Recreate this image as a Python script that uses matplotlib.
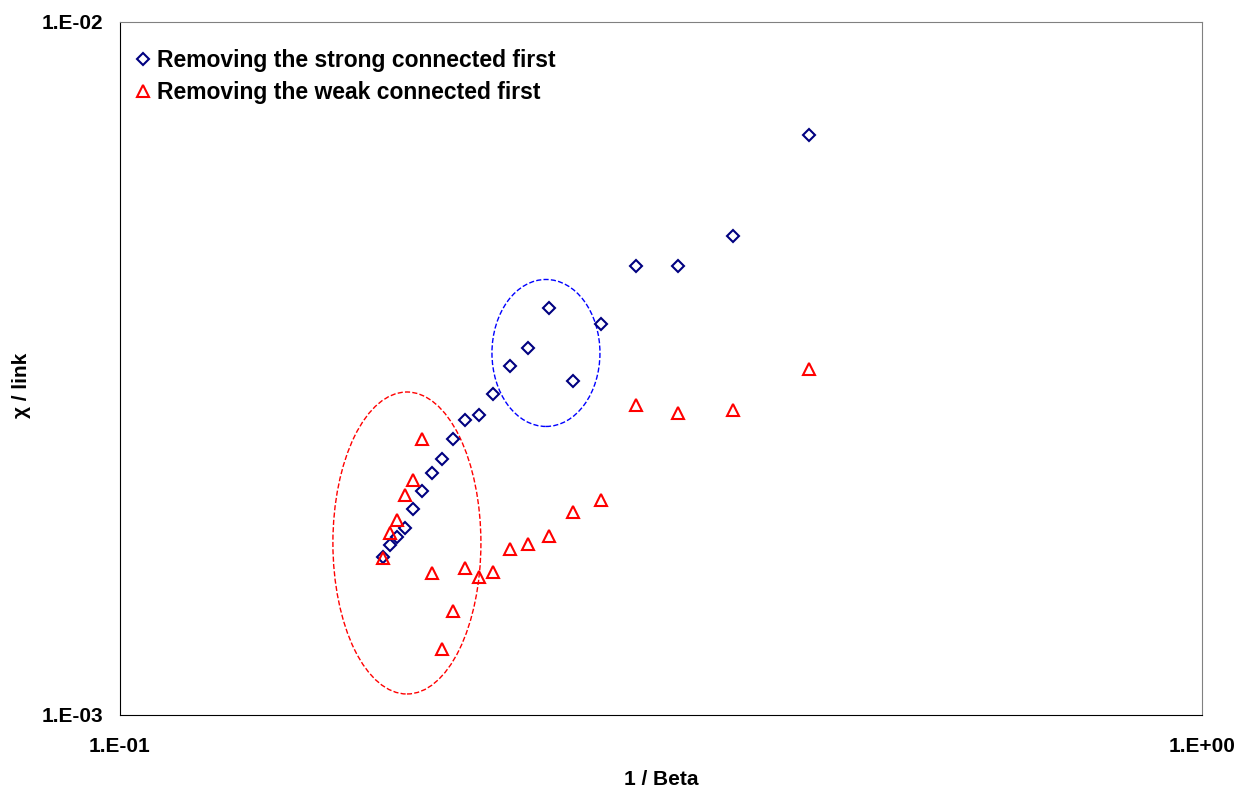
import matplotlib
matplotlib.use('Agg')
import matplotlib.pyplot as plt
from matplotlib.patches import Ellipse
from matplotlib.ticker import NullLocator, FixedLocator, FixedFormatter

plt.rcParams['font.family'] = ['Liberation Sans', 'DejaVu Sans']
plt.rcParams['font.weight'] = 'bold'

# 1/Beta values (shared by both series)
inv_beta = [0.1750, 0.1776, 0.1803, 0.1834, 0.1866, 0.1901, 0.1943, 0.1984,
            0.2031, 0.2084, 0.2147, 0.2211, 0.2293, 0.2383, 0.2492, 0.2622,
            0.2783, 0.2999, 0.3280, 0.3686, 0.4333]

chi_strong = [0.001690, 0.001759, 0.001806, 0.001861, 0.001983, 0.002105,
              0.002235, 0.002342, 0.002502, 0.002669, 0.002710, 0.002906,
              0.003190, 0.003387, 0.003866, 0.003034, 0.003667, 0.004445,
              0.004445, 0.004911, 0.006869]

chi_weak = [0.001685, 0.001830, 0.001911, 0.002077, 0.002183, 0.002502,
            0.001603, 0.001245, 0.001413, 0.001630, 0.001581, 0.001608,
            0.001737, 0.001765, 0.001813, 0.001963, 0.002042, 0.002801,
            0.002728, 0.002755, 0.003157]

x_ticks = [0.1, 1.0]
x_ticklabels = ['1.E-01', '1.E+00']
y_ticks = [0.001, 0.01]
y_ticklabels = ['1.E-03', '1.E-02']

fig = plt.figure(figsize=(12.47, 7.91), dpi=100)
ax = fig.add_axes([0.0962, 0.0961, 0.8677, 0.8761])

ax.plot(inv_beta, chi_strong, linestyle='none', marker='D', ms=6.5,
        mfc='none', mec='#000080', mew=1.5,
        label='Removing the strong connected first')
ax.plot(inv_beta, chi_weak, linestyle='none', marker='^', ms=8,
        mfc='none', mec='#FF0000', mew=1.5,
        label='Removing the weak connected first')

ax.set_xscale('log')
ax.set_yscale('log')
ax.set_xlim(0.1, 1.0)
ax.set_ylim(0.001, 0.01)

ax.xaxis.set_major_locator(FixedLocator(x_ticks))
ax.xaxis.set_major_formatter(FixedFormatter(x_ticklabels))
ax.yaxis.set_major_locator(FixedLocator(y_ticks))
ax.yaxis.set_major_formatter(FixedFormatter(y_ticklabels))
ax.xaxis.set_minor_locator(NullLocator())
ax.yaxis.set_minor_locator(NullLocator())
ax.tick_params(axis='x', length=0, pad=16, labelsize=15)
ax.tick_params(axis='y', length=0, pad=12, labelsize=15)

# highlighted groups
ax.add_patch(Ellipse((0.2652, 0.2482), 0.1368, 0.4358, transform=ax.transAxes,
                     fill=False, edgecolor='#FF0000', linestyle='--', linewidth=1))
ax.add_patch(Ellipse((0.3937, 0.5224), 0.0998, 0.2121, transform=ax.transAxes,
                     fill=False, edgecolor='#0000FF', linestyle='--', linewidth=1))

for side in ['top', 'right']:
    ax.spines[side].set_color('#808080')
for side in ['left', 'bottom']:
    ax.spines[side].set_color('black')

ax.set_xlabel('1 / Beta', fontsize=15, fontweight='bold')
ax.xaxis.set_label_coords(0.5, -0.08)
ax.set_ylabel('χ / link', fontsize=15, fontweight='bold')
ax.yaxis.set_label_coords(-0.082, 0.475)

leg = ax.legend(loc='upper left', bbox_to_anchor=(0.0063, 0.9736),
                frameon=False, fontsize=16.5, handletextpad=0.32,
                handlelength=0.6, borderaxespad=0, borderpad=0.4,
                labelspacing=0.36)

fig.savefig('out.png', dpi=100)
